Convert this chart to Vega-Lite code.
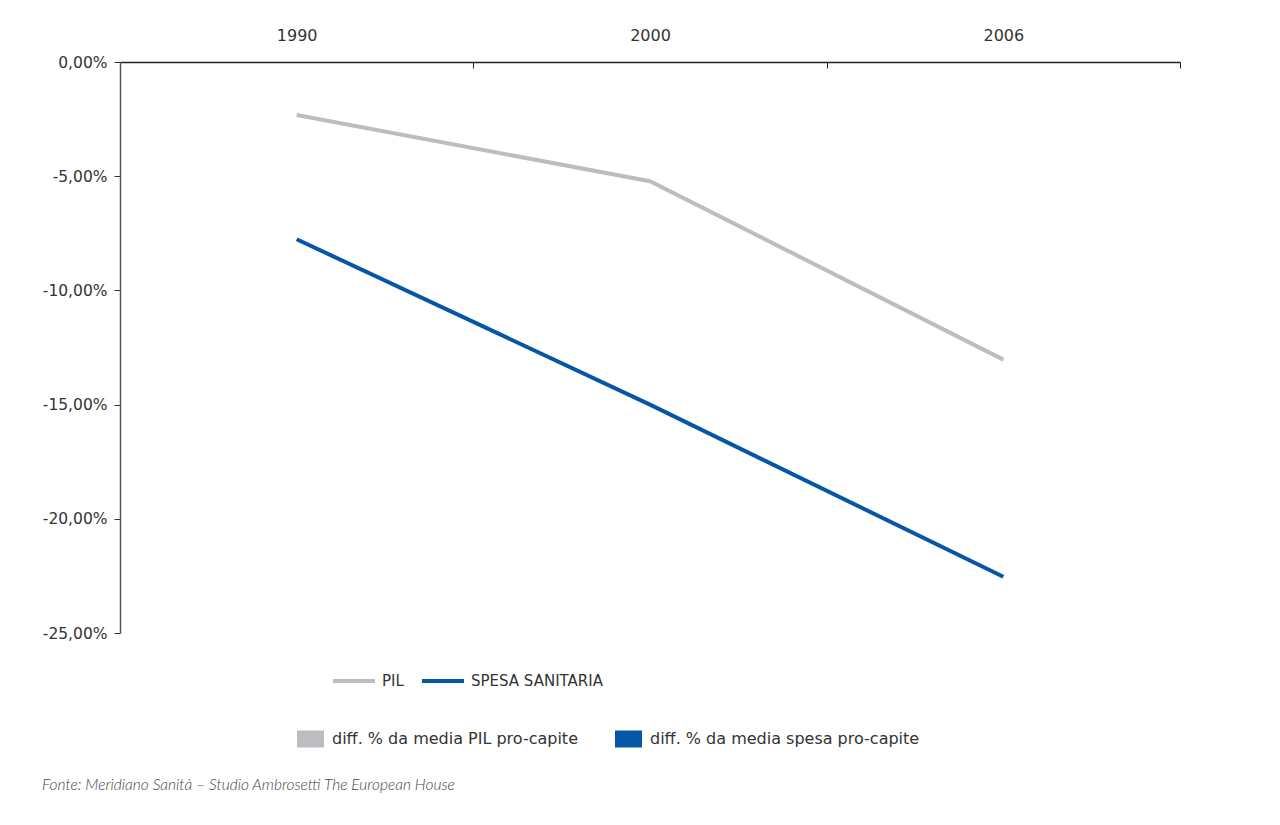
{
  "$schema": "https://vega.github.io/schema/vega-lite/v6.json",
  "width": 1060,
  "height": 571,
  "autosize": {"type": "none"},
  "padding": {"left": 120, "top": 62, "right": 100, "bottom": 192},
  "background": "white",
  "config": {
    "view": {"stroke": null},
    "font": "DejaVu Sans",
    "locale": {
      "number": {"decimal": ",", "thousands": ".", "grouping": [3], "currency": ["€", ""], "minus": "-"}
    }
  },
  "title": {
    "text": "Fonte: Meridiano Sanità – Studio Ambrosetti The European House",
    "orient": "bottom",
    "anchor": "start",
    "frame": "group",
    "dx": -78,
    "offset": 42,
    "baseline": "alphabetic",
    "font": "Lato",
    "fontStyle": "italic",
    "fontWeight": 300,
    "fontSize": 15.5,
    "color": "#444444"
  },
  "data": {
    "values": [
      {"anno": "1990", "serie": "PIL", "voce": "diff. % da media PIL pro-capite", "diff": -0.0232},
      {"anno": "2000", "serie": "PIL", "voce": "diff. % da media PIL pro-capite", "diff": -0.0522},
      {"anno": "2006", "serie": "PIL", "voce": "diff. % da media PIL pro-capite", "diff": -0.1303},
      {"anno": "1990", "serie": "SPESA SANITARIA", "voce": "diff. % da media spesa pro-capite", "diff": -0.0776},
      {"anno": "2000", "serie": "SPESA SANITARIA", "voce": "diff. % da media spesa pro-capite", "diff": -0.1500},
      {"anno": "2006", "serie": "SPESA SANITARIA", "voce": "diff. % da media spesa pro-capite", "diff": -0.2254}
    ]
  },
  "encoding": {
    "x": {
      "field": "anno",
      "type": "ordinal",
      "bandPosition": 0.5,
      "scale": {"type": "band", "paddingInner": 0, "paddingOuter": 0},
      "axis": {
        "orient": "top",
        "title": null,
        "labelAngle": 0,
        "tickBand": "extent",
        "tickSize": -6,
        "tickColor": "#222222",
        "domainColor": "#222222",
        "domainWidth": 1.5,
        "labelPadding": 25,
        "labelFont": "DejaVu Sans",
        "labelFontSize": 16,
        "labelColor": "#333333"
      }
    },
    "y": {
      "field": "diff",
      "type": "quantitative",
      "scale": {"domain": [-0.25, 0], "nice": false, "zero": false},
      "axis": {
        "title": null,
        "values": [0, -0.05, -0.1, -0.15, -0.2, -0.25],
        "format": ".2%",
        "grid": false,
        "tickSize": 6,
        "tickColor": "#333333",
        "domainColor": "#555555",
        "domainWidth": 1.5,
        "labelPadding": 7,
        "labelFont": "DejaVu Sans",
        "labelFontSize": 15.5,
        "labelColor": "#333333"
      }
    }
  },
  "layer": [
    {
      "mark": {"type": "line", "strokeWidth": 4},
      "encoding": {
        "stroke": {
          "field": "serie",
          "type": "nominal",
          "scale": {"domain": ["PIL", "SPESA SANITARIA"], "range": ["#bcbdc1", "#0656a6"]},
          "legend": {
            "title": null,
            "orient": "none",
            "direction": "horizontal",
            "legendX": 211,
            "legendY": 596,
            "symbolType": "stroke",
            "symbolSize": 1764,
            "symbolStrokeWidth": 4,
            "labelOffset": 5,
            "columnPadding": 10,
            "labelLimit": 0,
            "labelFont": "DejaVu Sans",
            "labelFontSize": 15,
            "labelColor": "#333333"
          }
        }
      }
    },
    {
      "mark": {"type": "point", "filled": true, "opacity": 0},
      "encoding": {
        "fill": {
          "field": "voce",
          "type": "nominal",
          "scale": {
            "domain": ["diff. % da media PIL pro-capite", "diff. % da media spesa pro-capite"],
            "range": ["#bcbdc1", "#0656a6"]
          },
          "legend": {
            "title": null,
            "orient": "none",
            "direction": "horizontal",
            "legendX": 177,
            "legendY": 663,
            "symbolType": "M-1,-0.63H1V0.63H-1Z",
            "symbolSize": 729,
            "symbolOpacity": 1,
            "symbolStrokeWidth": 0,
            "labelOffset": 8,
            "columnPadding": 37,
            "labelLimit": 0,
            "labelFont": "DejaVu Sans",
            "labelFontSize": 16,
            "labelColor": "#333333"
          }
        }
      }
    }
  ]
}
